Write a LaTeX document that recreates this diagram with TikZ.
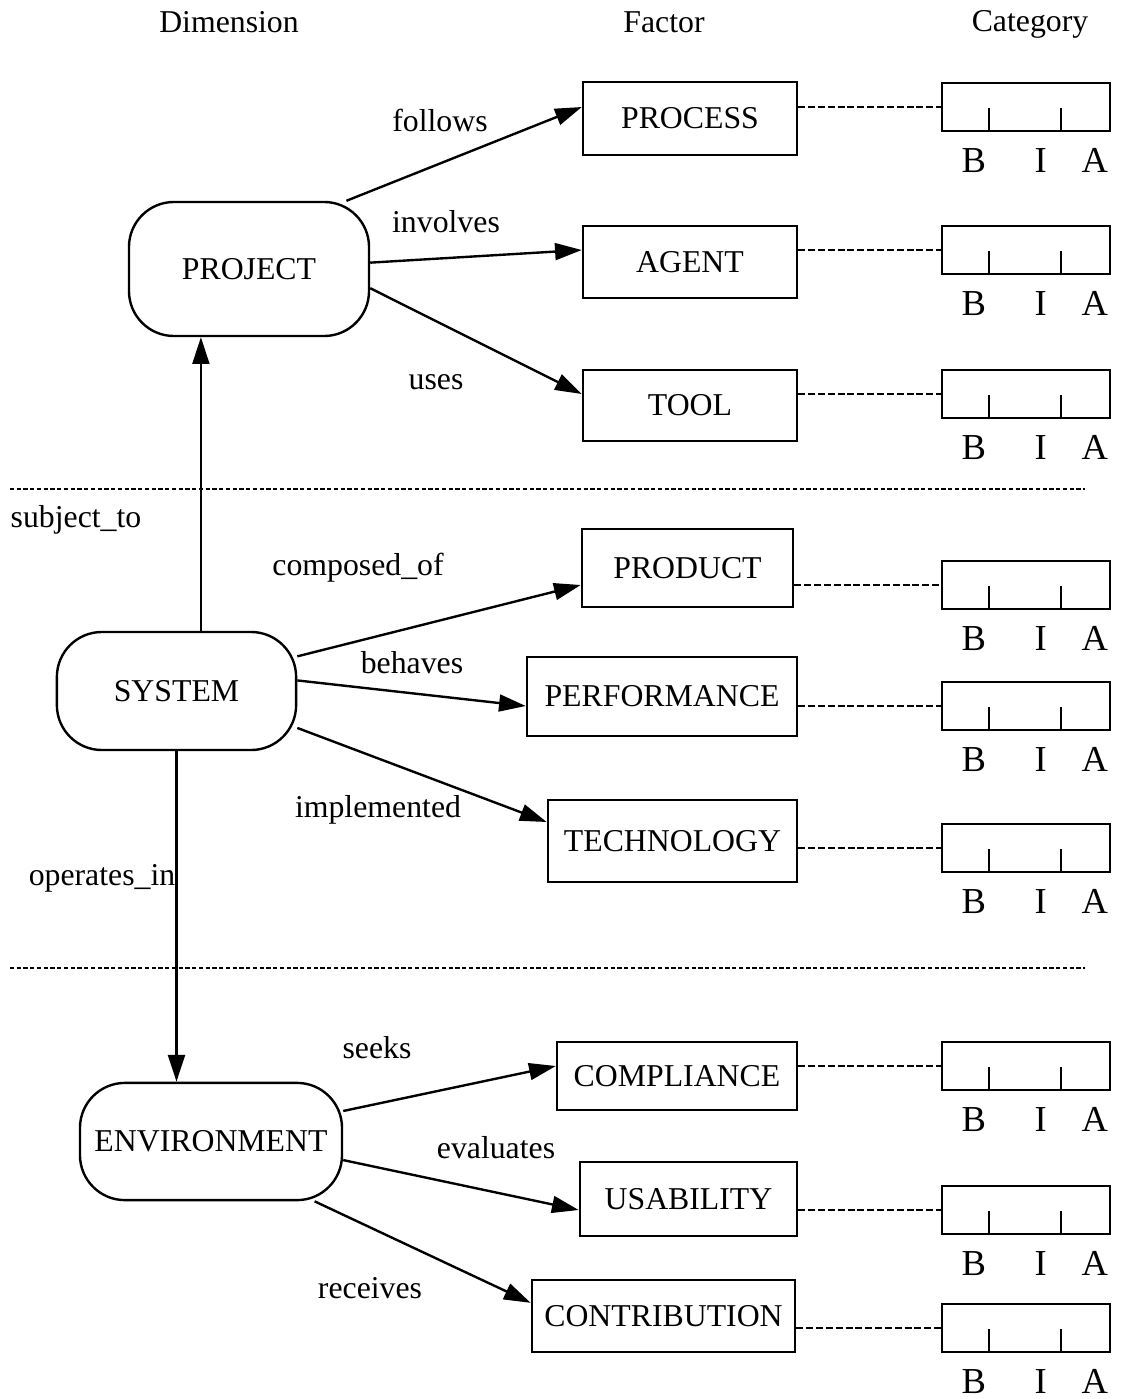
\documentclass[tikz,border=0pt]{standalone}
\usepackage{fontspec}
\setmainfont{Liberation Serif}
\usetikzlibrary{arrows.meta,positioning}

\begin{document}
\begin{tikzpicture}[x=0.025cm, y=-0.025cm,
  font=\fontsize{22.6}{27}\selectfont,
  dim/.style={draw, line width=1.7pt, rounded corners=32pt, inner sep=0pt},
  fac/.style={draw, line width=1.7pt, inner sep=0pt},
  cat/.style={draw, line width=1.7pt, minimum width=4.2cm, minimum height=1.2cm,
              inner sep=0pt},
  lett/.style={inner sep=0pt, font=\fontsize{26}{30}\selectfont},
  arr/.style={-{Triangle[length=19pt,width=12pt]}, line width=1.7pt},
  link/.style={line width=1.6pt, dash pattern=on 5pt off 2pt},
  divider/.style={line width=1.6pt, dash pattern=on 3pt off 1.8pt}]
\useasboundingbox (0,0) rectangle (1120,1399);
% --- column headers ---
\node (hdim) at (229,22) {Dimension};
\node (hfac) at (664,22) {Factor};
\node (hcat) at (1030,24) {Category};
% --- dimensions ---
\node[dim, minimum width=6cm, minimum height=3.35cm] (project) at (249,269) {PROJECT};
\node[dim, minimum width=5.98cm, minimum height=2.95cm] (system) at (176.5,691) {SYSTEM};
\node[dim, minimum width=6.55cm, minimum height=2.93cm] (environment) at (211,1141.5) {ENVIRONMENT};
% --- factors ---
\node[fac, minimum width=5.35cm, minimum height=1.83cm] (process) at (690,118.5) {PROCESS};
\node[fac, minimum width=5.35cm, minimum height=1.8cm] (agent) at (690,262) {AGENT};
\node[fac, minimum width=5.35cm, minimum height=1.78cm] (tool) at (690,405.5) {TOOL};
\node[fac, minimum width=5.28cm, minimum height=1.95cm] (product) at (687.5,568) {PRODUCT};
\node[fac, minimum width=6.75cm, minimum height=1.98cm] (performance) at (662,696.5) {PERFORMANCE};
\node[fac, minimum width=6.23cm, minimum height=2.05cm] (technology) at (672.5,841) {TECHNOLOGY};
\node[fac, minimum width=6cm, minimum height=1.7cm] (compliance) at (677,1076) {COMPLIANCE};
\node[fac, minimum width=5.43cm, minimum height=1.85cm] (usability) at (688.5,1199) {USABILITY};
\node[fac, minimum width=6.58cm, minimum height=1.8cm] (contribution) at (663.5,1316) {CONTRIBUTION};
% --- category scales B / I / A ---
\foreach \f/\y in {process/107, agent/250, tool/394, product/585, performance/706,
                   technology/848, compliance/1066, usability/1210, contribution/1328}{
  \node[cat] (c-\f) at (1026,\y) {};
  \draw[link] (\f.east |- c-\f.west) -- (c-\f.west);
  \draw[line width=1.7pt] ([xshift=1.2cm]c-\f.south west) -- ++(0pt,0.6cm)
                          ([xshift=3cm]c-\f.south west) -- ++(0pt,0.6cm);
  \node[lett] (b-\f) at ([xshift=0.825cm,yshift=-0.7cm]c-\f.south west) {B};
  \node[lett] (i-\f) at ([xshift=2.5cm,yshift=-0.7cm]c-\f.south west) {I};
  \node[lett] (a-\f) at ([xshift=3.85cm,yshift=-0.7cm]c-\f.south west) {A};
}
% --- band dividers ---
\draw[divider] (10,489) -- (1085,489);
\draw[divider] (10,968) -- (1085,968);
% --- relations ---
\draw[arr] (project.35) -- (process.west |- c-process.west);
\draw[arr] (project.3) -- (agent.west |- c-agent.west);
\draw[arr] (project.-9) -- (tool.west |- c-tool.west);
\draw[arr] (system.16) -- (product.west |- c-product.west);
\draw[arr] (system.5) -- (performance.west |- c-performance.west);
\draw[arr] (system.-17) -- ([yshift=0.475cm]technology.west);
\draw[arr] (environment.13.5) -- (compliance.west |- c-compliance.west);
\draw[arr] (environment.-8) -- (usability.west |- c-usability.west);
\draw[arr] (environment.-30) -- ([yshift=0.33cm]contribution.west);
\draw[arr] ([xshift=0.61cm]system.north) -- ([xshift=0.61cm]system.north |- project.south);
\draw[arr] (system.south) -- (system.south |- environment.north);
% --- relation labels ---
\node (lfollows) at (440,120) {follows};
\node (linvolves) at (446,222) {involves};
\node (luses) at (436,382) {uses};
\node (lsubject) at (76,520) {subject\_to};
\node (lcomposed) at (358,568) {composed\_of};
\node (lbehaves) at (412,663) {behaves};
\node (limpl) at (378,810) {implemented};
\node (loperates) at (102,878) {operates\_in};
\node (lseeks) at (377,1048) {seeks};
\node (levaluates) at (496,1148) {evaluates};
\node (lreceives) at (370,1288) {receives};
\end{tikzpicture}
\end{document}
